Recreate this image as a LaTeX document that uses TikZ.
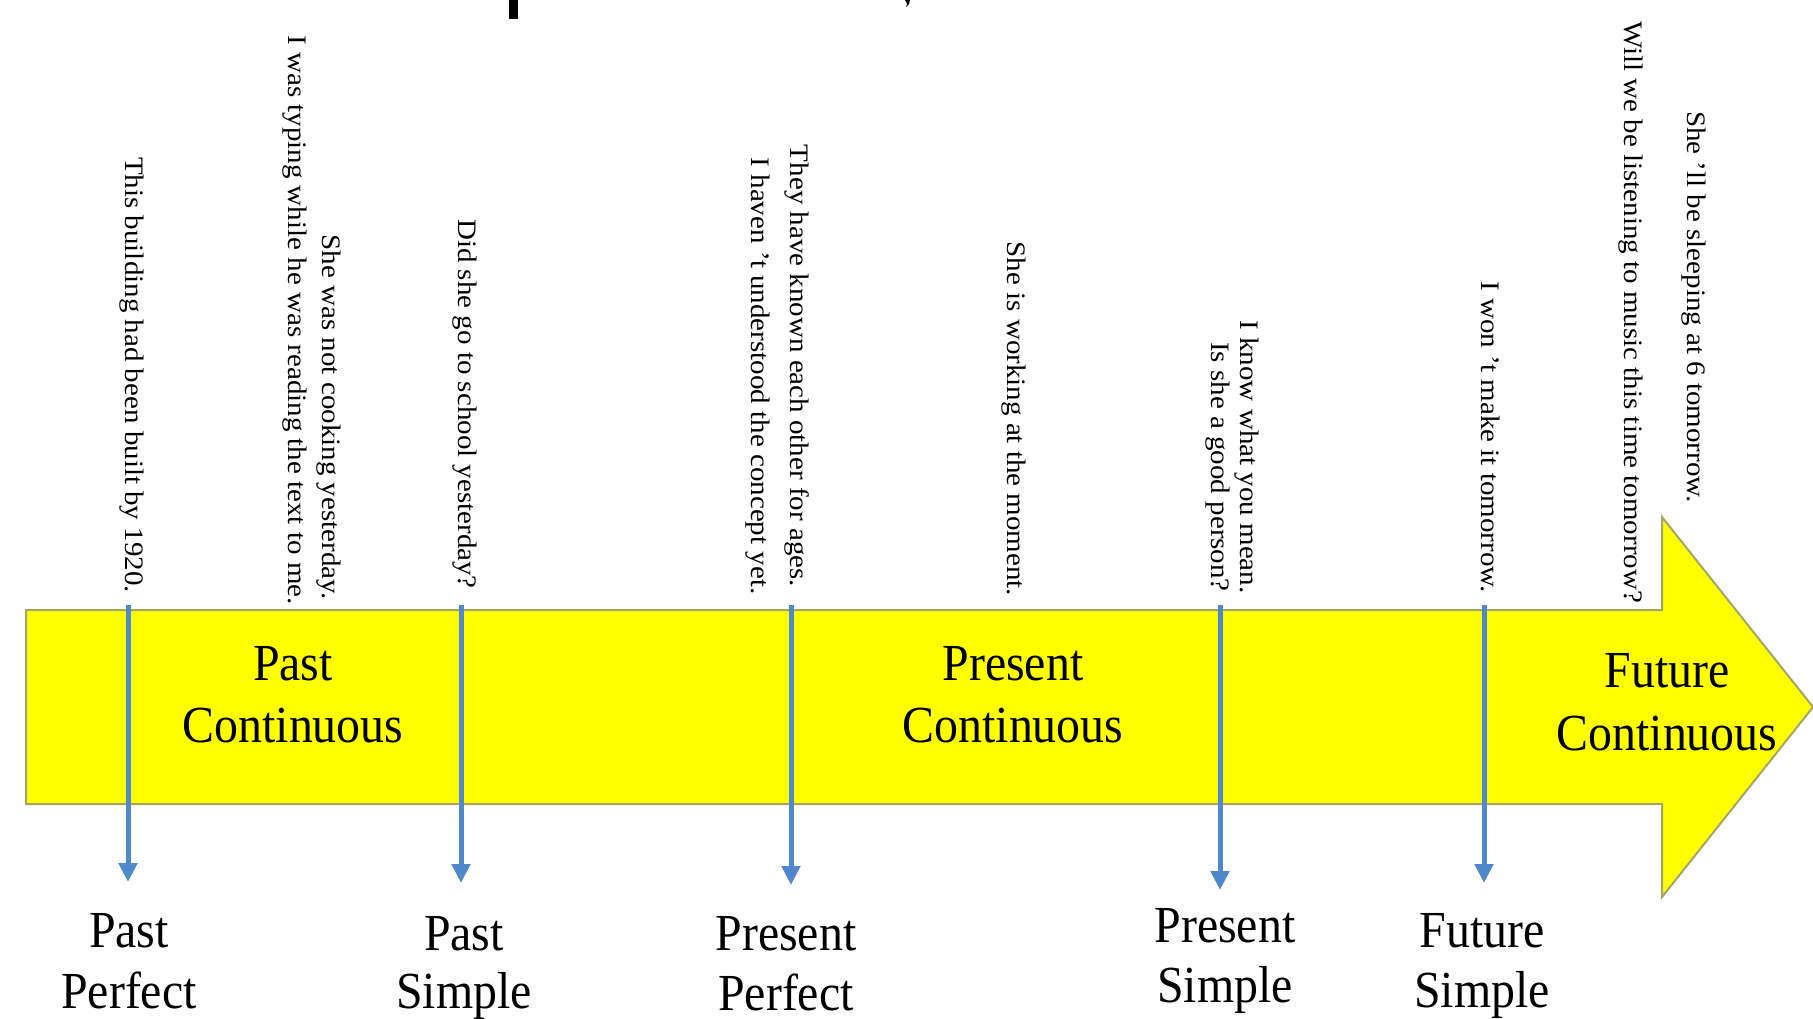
\documentclass[tikz,border=0pt]{standalone}
\usepackage{fontspec}
\setmainfont{Liberation Serif}
\usetikzlibrary{arrows.meta}
\definecolor{bandyellow}{RGB}{255,255,0}
\definecolor{bandedge}{RGB}{165,165,100}
\definecolor{tickblue}{RGB}{79,136,204}
\begin{document}
\begin{tikzpicture}[x=0.5pt,y=-0.5pt,
  bigl/.style={font=\fontsize{26}{31}\selectfont, inner sep=0pt, xscale=0.92, anchor=base},
  sent/.style={font=\fontsize{14.5}{17}\selectfont, inner sep=0pt, rotate=-90, yscale=0.92},
  tickarrow/.style={draw=tickblue, line width=2.5pt, -{Triangle[width=9pt,length=9.5pt]}},
  band/.style={fill=bandyellow, draw=bandedge, line width=1pt, line join=miter}]
\fill[white] (0,0) rectangle (1813,1018);
\useasboundingbox (0,0) rectangle (1813,1018);

% fragments of a cropped heading
\fill (509,0) rectangle (518,19);
\fill (905,0) -- (910,0) -- (909,4) -- (906,7) -- (907,4) -- cycle;

% timeline band with arrow head
\path[band] (26,610) -- (1662,610) -- (1662,517) -- (1813,707) -- (1662,897)
  -- (1662,804) -- (26,804) -- cycle;

% tense names inside the band
\node[bigl] (pc1) at (293,680) {Past};
\node[bigl] (pc2) at (293,742) {Continuous};
\node[bigl] (prc1) at (1013,680) {Present};
\node[bigl] (prc2) at (1013,742) {Continuous};
\node[bigl] (fc1) at (1667,687) {Future};
\node[bigl] (fc2) at (1667,750) {Continuous};

% tick arrows
\coordinate (t1s) at (128,605);  \coordinate (t1e) at (128,882);
\coordinate (t2s) at (461,605);  \coordinate (t2e) at (461,883);
\coordinate (t3s) at (791,605);  \coordinate (t3e) at (791,885);
\coordinate (t4s) at (1220,605); \coordinate (t4e) at (1220,890);
\coordinate (t5s) at (1484,605); \coordinate (t5e) at (1484,883);
\draw[tickarrow] (t1s) -- (t1e);
\draw[tickarrow] (t2s) -- (t2e);
\draw[tickarrow] (t3s) -- (t3e);
\draw[tickarrow] (t4s) -- (t4e);
\draw[tickarrow] (t5s) -- (t5e);

% tense names below
\node[bigl] (pp1) at (129,947) {Past};
\node[bigl] (pp2) at (129,1008) {Perfect};
\node[bigl] (ps1) at (464,950) {Past};
\node[bigl] (ps2) at (464,1008) {Simple};
\node[bigl] (prp1) at (786,950) {Present};
\node[bigl] (prp2) at (786,1010) {Perfect};
\node[bigl] (prs1) at (1225,942) {Present};
\node[bigl] (prs2) at (1225,1002) {Simple};
\node[bigl] (fs1) at (1482,947) {Future};
\node[bigl] (fs2) at (1482,1007) {Simple};

% example sentences
\node[sent] (s1) at (132,375) {This building had been built by 1920.};
\node[sent] (s2) at (295,320) {I was typing while he was reading the text to me.};
\node[sent] (s3) at (329,417) {She was not cooking yesterday.};
\node[sent] (s4) at (465,404) {Did she go to school yesterday?};
\node[sent] (s5) at (797,366) {They have known each other for ages.};
\node[sent] (s6) at (758,376) {I haven 't understood the concept yet.};
\node[sent] (s7) at (1014,419) {She is working at the moment.};
\node[sent] (s8) at (1247,457) {I know what you mean.};
\node[sent] (s9) at (1218,467) {Is she a good person?};
\node[sent] (s10) at (1491,437) {I won 't make it tomorrow.};
\node[sent] (s11) at (1631,312) {Will we be listening to music this time tomorrow?};
\node[sent] (s12) at (1694,307) {She 'll be sleeping at 6 tomorrow.};
\end{tikzpicture}
\end{document}
